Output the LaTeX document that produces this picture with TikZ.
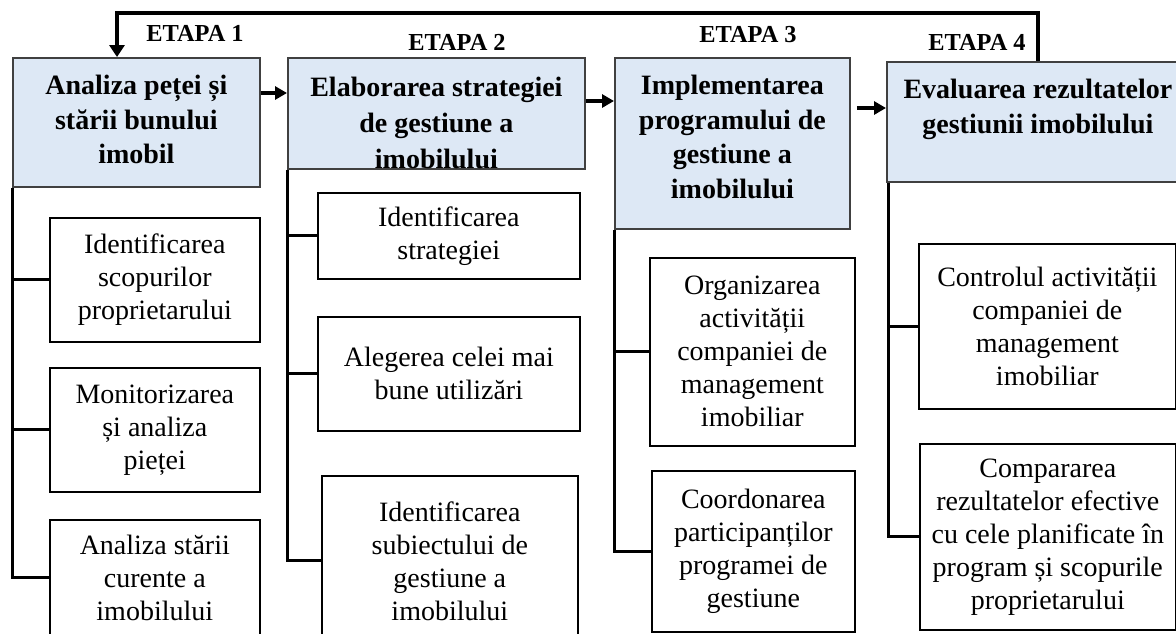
\documentclass[tikz,border=0pt]{standalone}
\usepackage{fontspec}
\setmainfont{Liberation Serif}
\usetikzlibrary{positioning, arrows.meta}
\definecolor{headfill}{HTML}{DDE8F5}
\definecolor{headstroke}{HTML}{404040}
\newcommand{\headfont}{\fontsize{14}{17.2}\selectfont\bfseries}
\newcommand{\taskfont}{\fontsize{14}{16.5}\selectfont}
\newcommand{\etapafont}{\fontsize{12.2}{14}\selectfont\bfseries}

\begin{document}
\begin{tikzpicture}[
    x=0.5pt, y=-0.5pt,
    % 1. Cajas de etapa
    head/.style={
        rectangle,
        draw=headstroke,
        fill=headfill,
        line width=0.9pt,
        anchor=north west
    },
    headtext/.style={inner sep=0pt, align=center, font=\headfont},
    % 2. Cajas de tareas
    task/.style={
        rectangle,
        draw=black,
        line width=0.8pt,
        align=center,
        anchor=north west,
        font=\taskfont,
        inner sep=3pt
    },
    etapa/.style={font=\etapafont},
    % 3. Lineas y flechas
    flow/.style={line width=2pt, -{Triangle[length=6pt, width=6.5pt]}},
    feedback/.style={line width=2pt, -{Triangle[length=6pt, width=7.5pt]}},
    spine/.style={line width=1.5pt}
]
\path[use as bounding box, fill=white] (0,0) rectangle (1176,633);

% === ETAPAS ===
\node[head, minimum width=123.5pt, minimum height=64.5pt] (h1) at (12,57) {};
\node[head, minimum width=148.5pt, minimum height=55.5pt] (h2) at (287,57) {};
\node[head, minimum width=117.5pt, minimum height=85.5pt] (h3) at (614,57) {};
\node[head, minimum width=151pt, minimum height=60pt] (h4) at (886,61) {};

\node[headtext, below=9pt of h1.north] (t1) {Analiza peței și\\stării bunului\\imobil};
\begin{scope}
  \clip (h2.north west) rectangle (h2.south east);
  \node[headtext, font=\fontsize{14}{18}\selectfont\bfseries, below=9.6pt of h2.north] (t2) {Elaborarea strategiei\\de gestiune a\\imobilului};
\end{scope}
\node[headtext, below=9pt of h3.north] (t3) {Implementarea\\programului de\\gestiune a\\imobilului};
\node[headtext, below=9pt of h4.north] (t4) {Evaluarea rezultatelor\\gestiunii imobilului};

\node[etapa] (e1) at (195,33) {ETAPA 1};
\node[etapa] (e2) at (457,42) {ETAPA 2};
\node[etapa] (e3) at (748,35) {ETAPA 3};
\node[etapa] (e4) at (977,42) {ETAPA 4};

% === TAREAS ===
\node[task, minimum width=105pt, minimum height=62pt] (c1a) at (49,217) {Identificarea\\scopurilor\\proprietarului};
\node[task, minimum width=105pt, minimum height=62pt] (c1b) at (49,367) {Monitorizarea\\și analiza\\pieței};
\node[task, minimum width=105pt, minimum height=58pt] (c1c) at (49,519) {Analiza stării\\curente a\\imobilului};

\node[task, minimum width=131pt, minimum height=43pt] (c2a) at (317,192) {Identificarea\\strategiei};
\node[task, minimum width=131pt, minimum height=57pt] (c2b) at (317,316) {Alegerea celei mai\\bune utilizări};
\node[task, minimum width=128pt, minimum height=85pt] (c2c) at (321,475) {Identificarea\\subiectului de\\gestiune a\\imobilului};

\node[task, minimum width=102.5pt, minimum height=94pt] (c3a) at (649,257) {Organizarea\\activității\\companiei de\\management\\imobiliar};
\node[task, minimum width=101.5pt, minimum height=80.5pt] (c3b) at (651,470) {Coordonarea\\participanților\\programei de\\gestiune};

\node[task, minimum width=128.5pt, minimum height=82.5pt] (c4a) at (918,243) {Controlul activității\\companiei de\\management\\imobiliar};
\node[task, minimum width=128pt, minimum height=93pt] (c4b) at (919,443) {Compararea\\rezultatelor efective\\cu cele planificate în\\program și scopurile\\proprietarului};

% === CONEXIONES ===
\foreach \c in {c1a,c1b,c1c} \draw[spine] (h1.south west) |- (\c.west);
\foreach \c in {c2a,c2b,c2c} \draw[spine] (h2.south west) |- (\c.west);
\foreach \c in {c3a,c3b} \draw[spine] (h3.south west) |- (\c.west);
\foreach \c in {c4a,c4b} \draw[spine] ([xshift=1pt]h4.south west) |- (\c.west);

\draw[flow] (h1.east |- 0,93) -- (h2.west |- 0,93);
\draw[flow] (h2.east |- 0,101) -- (h3.west |- 0,101);
\draw[flow, shorten <=3pt] (h3.east |- 0,108) -- (h4.west |- 0,108);

\coordinate (fbin) at ([xshift=52.5pt]h1.north west);
\draw[feedback] (h4.north) -- ++(0,-48) -| (fbin);

\end{tikzpicture}
\end{document}
